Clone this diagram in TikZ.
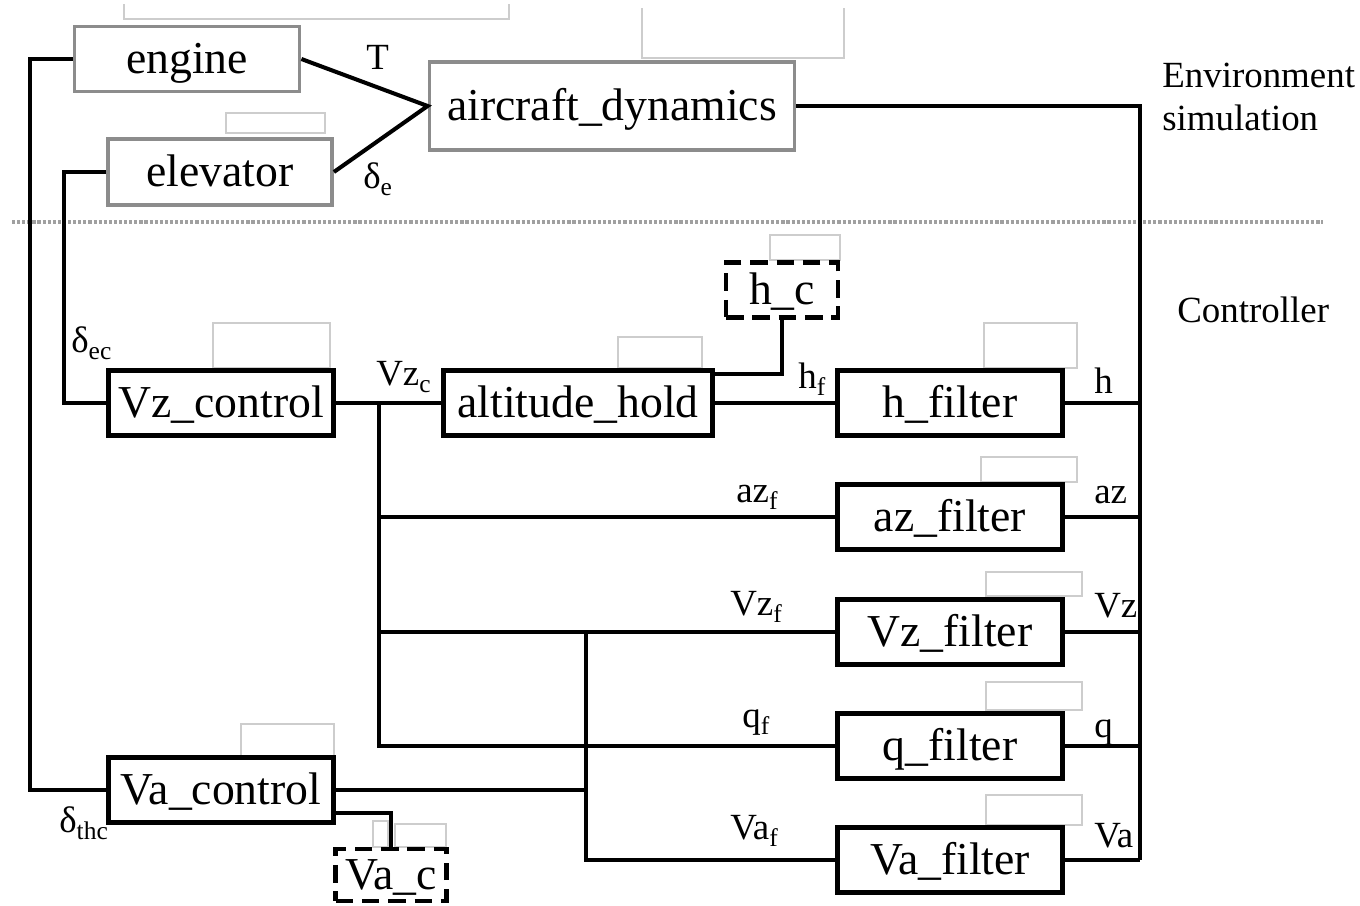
\documentclass[tikz,border=0pt]{standalone}
\usepackage{fontspec}
\setmainfont{Liberation Serif}
\usepackage{tikz}
\usetikzlibrary{calc}
\usepackage{xcolor}
\definecolor{simgrey}{RGB}{140,140,140}
\definecolor{dotgrey}{RGB}{160,160,160}
\definecolor{ghostgrey}{RGB}{205,205,205}
\newcommand{\lsub}[1]{\raisebox{-4.5pt}{\fontsize{14.5}{14.5}\selectfont #1}}
\newcommand{\dsub}[1]{δ\lsub{#1}}
\tikzset{
  blockfont/.style={font=\fontsize{26}{30}\selectfont, text height=17pt, text depth=0pt},
  simbox/.style={draw=simgrey, line width=2.2pt, inner sep=0pt, blockfont},
  ctrlbox/.style={draw=black, line width=2.8pt, inner sep=0pt, blockfont,
    minimum width=4.5cm, minimum height=1.3cm},
  refbox/.style={ctrlbox, dash pattern=on 10pt off 5pt},
  wire/.style={line width=2.3pt},
  sig/.style={inner sep=0pt, anchor=base west, font=\fontsize{21}{25}\selectfont},
  ghost/.style={draw=ghostgrey, line width=0.6pt}
}

\begin{document}
\begin{tikzpicture}[x=0.02cm,y=-0.02cm]
        \useasboundingbox (0,0) rectangle (1360,906);
        % Leftover label frames
        \draw[ghost] (124,4) -- (124,19) -- (509,19) -- (509,4);
        \draw[ghost] (642,8) -- (642,58) -- (844,58) -- (844,8);
        \foreach \xa/\ya/\xb/\yb in {226/113/325/133, 770/235/840/260, 213/323/330/368,
          618/337/702/368, 984/323/1077/368, 981/457/1077/482, 986/572/1082/596,
          986/682/1082/710, 986/795/1082/825, 241/724/334/756, 373/821/388/847, 395/824/446/847}{
          \draw[ghost] (\xa,\ya) rectangle (\xb,\yb);
        }
        % Environment simulation
        \node[simbox, minimum width=4.5cm, minimum height=1.3cm] (engine) at (187,59) {engine};
        \node[simbox, minimum width=4.48cm, minimum height=1.32cm] (elevator) at (220,172) {elevator};
        \node[simbox, minimum width=7.3cm, minimum height=1.76cm] (dyn) at (612,106) {aircraft\_dynamics};
        \draw[wire] (engine.east) -- (dyn.west) -- (elevator.east);
        \node[sig] (lT) at (366,70) {T};
        \node[sig] (lde) at (363,188) {\dsub{e}};
        \node[sig] (envlabel) at (1162,87) {Environment};
        \node[sig] (simlabel) at (1162,130) {simulation};
        % Separator
        \draw[dotgrey, line width=2.6pt, dash pattern=on 1.8pt off 1.1pt] (12,222) -- (1323,222);
        \node[sig] (ctrllabel) at (1177,322) {Controller};
        % Controller blocks
        \node[ctrlbox] (vzctrl) at (221,403) {Vz\_control};
        \node[ctrlbox, minimum width=5.38cm] (althold) at (578,403) {altitude\_hold};
        \node[refbox, minimum width=2.24cm, minimum height=1.1cm] (hc) at (782,290) {h\_c};
        \node[ctrlbox] (vactrl) at (221,790) {Va\_control};
        \node[refbox, minimum width=2.22cm, minimum height=1.04cm] (vac) at (391,875) {Va\_c};
        % Filters and sensor bus
        \foreach \n/\y/\yl in {h/403/393, az/517/503, Vz/632/617, q/746/737, Va/860/847}{
          \node[ctrlbox] (\n filt) at (950,\y) {\n\_filter};
          \draw[wire] (\n filt.east) -- ++(75,0);
          \node[sig] (\n sense) at (1094,\yl) {\n};
        }
        \draw[wire] (dyn.east) -| ($(Vafilt.east)+(75,0)$);
        % Actuator commands
        \draw[wire] (engine.west) -- ++(-43,0) |- (vactrl.west);
        \draw[wire] (elevator.west) -- ++(-42,0) |- (vzctrl.west);
        \node[sig] (ldec) at (71,352) {\dsub{ec}};
        \node[sig] (ldthc) at (59,832) {\dsub{thc}};
        % Vz loop
        \coordinate (vzsplit) at (379,403);
        \draw[wire] (vzctrl.east) -- (althold.west);
        \draw[wire] (vzsplit) |- (qfilt.west);
        \draw[wire] (vzsplit |- azfilt.west) -- (azfilt.west);
        \draw[wire] (vzsplit |- Vzfilt.west) -- (Vzfilt.west);
        \draw[wire] (althold.east) -- (hfilt.west);
        \draw[wire] (hc.south) |- ($(althold.east)+(0,-29)$);
        % Va loop
        \coordinate (vasplit) at (586,790);
        \draw[wire] (vactrl.east) -- (vasplit);
        \draw[wire] (vasplit |- Vzfilt.west) |- (Vafilt.west);
        \draw[wire] ($(vactrl.east)+(0,23)$) -| (vac.north);
        % Signal names
        \node[sig] (lvzc) at (376,385) {Vz\lsub{c}};
        \node[sig] (lhf) at (798,388) {h\lsub{f}};
        \node[sig] (lazf) at (736,502) {az\lsub{f}};
        \node[sig] (lvzf) at (730,615) {Vz\lsub{f}};
        \node[sig] (lqf) at (742,727) {q\lsub{f}};
        \node[sig] (lvaf) at (730,839) {Va\lsub{f}};
      \end{tikzpicture}
\end{document}
